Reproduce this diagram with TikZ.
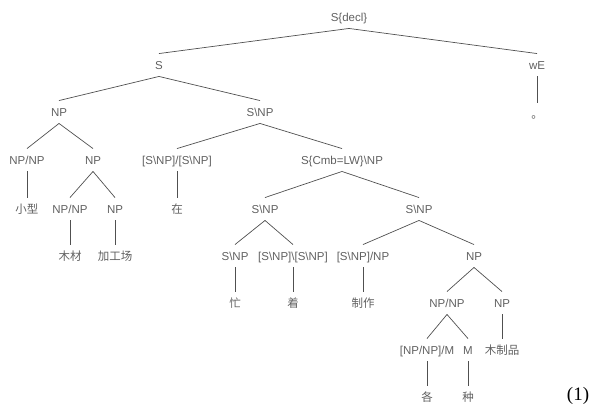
\documentclass[tikz,border=0pt]{standalone}
\usepackage{fontspec}
\setmainfont{Liberation Sans}
\newfontfamily\cjkfont{Noto Sans CJK SC}
\newfontfamily\numfont{Liberation Serif}
\newcommand\bs{\textbackslash}
\definecolor{textgray}{HTML}{606060}
\definecolor{linegray}{HTML}{505050}
\begin{document}
\begin{tikzpicture}[x=1pt,y=-1pt,
  lab/.style={font=\fontsize{11.5}{13}\selectfont, text=textgray, text height=8.5pt, text depth=0pt, inner xsep=1pt, inner ysep=7pt, anchor=center},
  cjk/.style={lab, font=\fontsize{11.5}{13}\selectfont\cjkfont},
  edge/.style={draw=linegray, line width=0.7pt}]
\useasboundingbox (0,0) rectangle (595,413);
% level 0
\node[lab] (root) at (349,17) {S\{decl\}};
% level 1
\node[lab] (S) at (159,65) {S};
\node[lab] (wE) at (537,65) {wE};
% level 2
\node[cjk] (dot) at (537,114) {。};
\node[lab] (NP1) at (59,112) {NP};
\node[lab] (SNP1) at (260,112) {S\bs NP};
% level 3
\node[lab] (NPNP1) at (27,160) {NP/NP};
\node[lab] (NP2) at (93,160) {NP};
\node[lab] (SS) at (177,160) {[S\bs NP]/[S\bs NP]};
\node[lab] (Cmb) at (342,160) {S\{Cmb=LW\}\bs NP};
% level 4
\node[cjk] (xiaoxing) at (27,209) {小型};
\node[lab] (NPNP2) at (70,209) {NP/NP};
\node[lab] (NP3) at (115,209) {NP};
\node[cjk] (zai) at (177,209) {在};
\node[lab] (SNP2) at (265,209) {S\bs NP};
\node[lab] (SNP3) at (419,209) {S\bs NP};
% level 5
\node[cjk] (mucai) at (70,256) {木材};
\node[cjk] (jgc) at (115,256) {加工场};
\node[lab] (SNP4) at (235,256) {S\bs NP};
\node[lab] (SSb) at (293,256) {[S\bs NP]\bs[S\bs NP]};
\node[lab] (SNPNP) at (363,256) {[S\bs NP]/NP};
\node[lab] (NP4) at (474,256) {NP};
% level 6
\node[cjk] (mang) at (235,303) {忙};
\node[cjk] (zhe) at (293,303) {着};
\node[cjk] (zhizuo) at (363,303) {制作};
\node[lab] (NPNP3) at (447,303) {NP/NP};
\node[lab] (NP5) at (502,303) {NP};
% level 7
\node[lab] (NPNPM) at (427,350) {[NP/NP]/M};
\node[lab] (M) at (468,350) {M};
\node[cjk] (mzp) at (502,350) {木制品};
% level 8
\node[cjk] (ge) at (427,397) {各};
\node[cjk] (zhong) at (468,397) {种};
% equation number
\node[font=\fontsize{19}{22}\selectfont\numfont, text=black, anchor=center, inner sep=0pt] (eqn) at (578,396) {(1)};
% edges
\draw[edge] (root.south) -- (S.north);
\draw[edge] (root.south) -- (wE.north);
\draw[edge] (wE.south) -- (dot.north);
\draw[edge] (S.south) -- (NP1.north);
\draw[edge] (S.south) -- (SNP1.north);
\draw[edge] (NP1.south) -- (NPNP1.north);
\draw[edge] (NP1.south) -- (NP2.north);
\draw[edge] (SNP1.south) -- (SS.north);
\draw[edge] (SNP1.south) -- (Cmb.north);
\draw[edge] (NPNP1.south) -- (xiaoxing.north);
\draw[edge] (NP2.south) -- (NPNP2.north);
\draw[edge] (NP2.south) -- (NP3.north);
\draw[edge] (SS.south) -- (zai.north);
\draw[edge] (Cmb.south) -- (SNP2.north);
\draw[edge] (Cmb.south) -- (SNP3.north);
\draw[edge] (NPNP2.south) -- (mucai.north);
\draw[edge] (NP3.south) -- (jgc.north);
\draw[edge] (SNP2.south) -- (SNP4.north);
\draw[edge] (SNP2.south) -- (SSb.north);
\draw[edge] (SNP3.south) -- (SNPNP.north);
\draw[edge] (SNP3.south) -- (NP4.north);
\draw[edge] (SNP4.south) -- (mang.north);
\draw[edge] (SSb.south) -- (zhe.north);
\draw[edge] (SNPNP.south) -- (zhizuo.north);
\draw[edge] (NP4.south) -- (NPNP3.north);
\draw[edge] (NP4.south) -- (NP5.north);
\draw[edge] (NPNP3.south) -- (NPNPM.north);
\draw[edge] (NPNP3.south) -- (M.north);
\draw[edge] (NP5.south) -- (mzp.north);
\draw[edge] (NPNPM.south) -- (ge.north);
\draw[edge] (M.south) -- (zhong.north);
\end{tikzpicture}
\end{document}
